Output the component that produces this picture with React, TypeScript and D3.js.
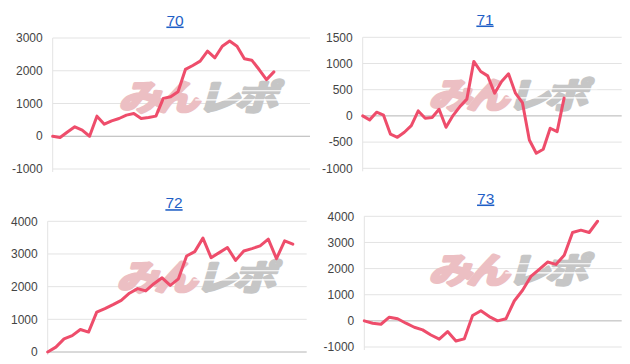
import React from "react";
import * as d3 from "d3";

// ---- data ----
const panelTitles = ["70", "71", "72", "73"];

const series70 = [0, -40, 130, 287, 185, 0, 614, 368, 470, 542, 645, 696, 542, 573, 614, 1157, 1208, 1361, 2040, 2160, 2293, 2600, 2395, 2750, 2907, 2750, 2365, 2323, 2037, 1730, 1965];
const series71 = [0, -76, 70, 13, -350, -408, -312, -185, 95, -45, -32, 127, -217, 6, 178, 320, 1040, 847, 764, 433, 656, 803, 433, 255, -459, -713, -637, -236, -300, 340];
const series72 = [0, 150, 400, 500, 690, 610, 1220, 1330, 1450, 1580, 1800, 1940, 1870, 2090, 2270, 2040, 2240, 2938, 3072, 3485, 2887, 3041, 3196, 2804, 3093, 3165, 3247, 3454, 2856, 3402, 3299];
const series73 = [0, -90, -130, 140, 80, -90, -245, -345, -540, -700, -410, -770, -690, 205, 385, 165, 0, 80, 760, 1170, 1700, 1970, 2250, 2160, 2510, 3380, 3470, 3380, 3810];

const yTicks70 = [-1000, 0, 1000, 2000, 3000];
const yTicks71 = [-1000, -500, 0, 500, 1000, 1500];
const yTicks72 = [0, 1000, 2000, 3000, 4000];
const yTicks73 = [-1000, 0, 1000, 2000, 3000, 4000];

const allSeries = [series70, series71, series72, series73];
const allTicks = [yTicks70, yTicks71, yTicks72, yTicks73];

// ---- layout (pixels) ----
const layouts = [
  { left: 52.7, right: 310, top: 38, bottom: 169, titleX: 175, titleY: 20, xMax: 34.9, wmX: 114, wmY: 110 },
  { left: 362.7, right: 621.7, top: 37.3, bottom: 168.3, titleX: 485, titleY: 19, xMax: 37.3, wmX: 424, wmY: 108 },
  { left: 47.7, right: 306.7, top: 221.3, bottom: 352, titleX: 174, titleY: 202.7, xMax: 31.7, wmX: 112, wmY: 290 },
  { left: 364.3, right: 621.7, top: 216.3, bottom: 347, titleX: 485.7, titleY: 198, xMax: 30.9, wmX: 424, wmY: 283 },
];

const LINE = "#ee4d6b";
const FONT = "'Liberation Sans', Arial, sans-serif";
const CJK = "'Noto Sans CJK JP', sans-serif";

function Panel({ idx }: { idx: number }) {
  const data = allSeries[idx];
  const ticks = allTicks[idx];
  const L = layouts[idx];
  const x = d3.scaleLinear().domain([0, L.xMax]).range([L.left, L.right]);
  const y = d3
    .scaleLinear()
    .domain([d3.min(ticks) as number, d3.max(ticks) as number])
    .range([L.bottom, L.top]);
  const line = d3
    .line<number>()
    .x((_, i) => x(i))
    .y((d) => y(d));
  return (
    <g>
      <text
        x={L.titleX}
        y={L.titleY + 5.5}
        textAnchor="middle"
        fontFamily={FONT}
        fontSize={15.5}
        fill="#1f5fc6"
        textDecoration="underline"
      >
        {panelTitles[idx]}
      </text>
      {ticks.map((t) => (
        <g key={t}>
          <line
            x1={L.left}
            x2={L.right}
            y1={y(t)}
            y2={y(t)}
            stroke={t === 0 ? "#b4b4b4" : "#e3e3e3"}
            strokeWidth={1}
          />
          <text
            x={L.left - 10}
            y={y(t) + 4.2}
            textAnchor="end"
            fontFamily={FONT}
            fontSize={12}
            fill="#444"
          >
            {t}
          </text>
        </g>
      ))}
      <line x1={L.left} x2={L.left} y1={L.top} y2={L.bottom + 3} stroke="#e3e3e3" />
      <g transform={`translate(${L.wmX},${L.wmY}) skewX(-16) scale(1.12,0.92)`}>
        <text
          x={4}
          y={0}
          fontFamily={CJK}
          fontWeight={700}
          fontSize={38}
          fill="#ecbfc3"
          stroke="#ecbfc3"
          strokeWidth={3.5}
          strokeLinejoin="round"
          letterSpacing={-4}
        >
          みん
        </text>
        <text
          x={74}
          y={0}
          fontFamily={CJK}
          fontWeight={700}
          fontSize={38}
          fill="#c6c6c6"
          stroke="#c6c6c6"
          strokeWidth={3.5}
          strokeLinejoin="round"
          letterSpacing={-4}
        >
          レポ
        </text>
        <line x1={70} x2={150} y1={-21} y2={-21} stroke="#fff" strokeWidth={1.2} />
        <line x1={70} x2={150} y1={-11} y2={-11} stroke="#fff" strokeWidth={1.2} />
      </g>
      <path d={line(data) || ""} fill="none" stroke={LINE} strokeWidth={3} strokeLinejoin="round" strokeLinecap="round" />
    </g>
  );
}

export default function App() {
  return (
    <svg
      width={630}
      height={364}
      style={{ position: "absolute", left: 0, top: 0, background: "#fff" }}
    >
      <rect width={630} height={364} fill="#fff" />
      {[0, 1, 2, 3].map((i) => (
        <Panel key={i} idx={i} />
      ))}
    </svg>
  );
}
